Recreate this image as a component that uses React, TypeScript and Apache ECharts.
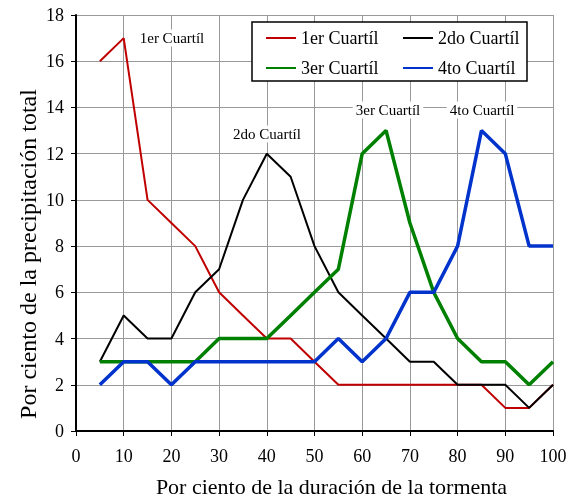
import React, { useEffect, useRef } from "react";
import * as echarts from "echarts";

const xValues = [5, 10, 15, 20, 25, 30, 35, 40, 45, 50, 55, 60, 65, 70, 75, 80, 85, 90, 95, 100];
const q1 = [16, 17, 10, 9, 8, 6, 5, 4, 4, 3, 2, 2, 2, 2, 2, 2, 2, 1, 1, 2];
const q2 = [3, 5, 4, 4, 6, 7, 10, 12, 11, 8, 6, 5, 4, 3, 3, 2, 2, 2, 1, 2];
const q3 = [3, 3, 3, 3, 3, 4, 4, 4, 5, 6, 7, 12, 13, 9, 6, 4, 3, 3, 2, 3];
const q4 = [2, 3, 3, 2, 3, 3, 3, 3, 3, 3, 4, 3, 4, 6, 6, 8, 13, 12, 8, 8];
const seriesNames = ["1er Cuartíl", "2do Cuartíl", "3er Cuartíl", "4to Cuartíl"];
const colors = ["#c00000", "#000000", "#008000", "#0033cc"];
const widths = [2, 2, 3.5, 3.5];

const FONT = "'Liberation Serif', serif";

export default function App() {
  const ref = useRef<HTMLDivElement>(null);
  useEffect(() => {
    if (!ref.current) return;
    const chart = echarts.init(ref.current, null, { renderer: "svg" });
    const all = [q1, q2, q3, q4];
    const series = all.map((vals, i) => ({
      name: seriesNames[i],
      type: "line",
      data: xValues.map((x, j) => [x, vals[j]]),
      symbol: "none",
      lineStyle: { color: colors[i], width: widths[i] },
      itemStyle: { color: colors[i] },
    }));
    const mkAxis = (min: number, max: number, interval: number, labelMargin: number) => ({
      type: "value",
      min,
      max,
      interval,
      axisLine: { show: true, lineStyle: { color: "#000", width: 2 } },
      axisTick: { show: true, length: 5, lineStyle: { color: "#000", width: 1 } },
      axisLabel: { fontFamily: FONT, fontSize: 18, color: "#000", margin: labelMargin },
      splitLine: { show: true, lineStyle: { color: "#999999", width: 1 } },
    });
    const legendCommon = {
      orient: "vertical",
      top: 24,
      z: 30,
      itemWidth: 30,
      itemHeight: 14,
      itemGap: 12,
      itemStyle: { opacity: 0 },
      textStyle: { fontFamily: FONT, fontSize: 18, color: "#000" },
    };
    const annot = (text: string, x: number, y: number) => ({
      type: "text",
      x,
      y,
      z: 50,
      style: {
        text,
        fontFamily: FONT,
        fontSize: 15,
        fill: "#000",
        align: "center",
        verticalAlign: "middle",
        backgroundColor: "#fff",
        padding: [1, 3],
      },
    });
    chart.setOption({
      animation: false,
      grid: { left: 76, right: 17, top: 15, bottom: 70, outerBoundsMode: "none", containLabel: false },
      xAxis: {
        ...mkAxis(0, 100, 10, 16),
        name: "Por ciento de la duración de la tormenta",
        nameLocation: "middle",
        nameGap: 44,
        nameTextStyle: { fontFamily: FONT, fontSize: 22, color: "#000", padding: [0, 0, 0, 34] },
      },
      yAxis: mkAxis(0, 18, 2, 12),
      legend: [
        { ...legendCommon, left: 260, data: [seriesNames[0], seriesNames[2]] },
        { ...legendCommon, left: 397, data: [seriesNames[1], seriesNames[3]] },
      ],
      graphic: [
        {
          type: "rect",
          shape: { x: 252, y: 22, width: 275, height: 59 },
          style: { fill: "#fff", stroke: "#000", lineWidth: 1.5 },
          z: 25,
        },
        {
          type: "text",
          x: 28,
          y: 254,
          rotation: Math.PI / 2,
          style: {
            text: "Por ciento de la precipitación total",
            fontFamily: FONT,
            fontSize: 24,
            fill: "#000",
            align: "center",
            verticalAlign: "middle",
          },
        },
        annot("1er Cuartíl", 172, 38),
        annot("2do Cuartíl", 267, 134),
        annot("3er Cuartíl", 388, 110),
        annot("4to Cuartíl", 482, 110),
      ],
      series,
    });
    return () => chart.dispose();
  }, []);
  return (
    <div
      ref={ref}
      style={{ position: "fixed", left: 0, top: 0, width: 570, height: 501 }}
    />
  );
}
